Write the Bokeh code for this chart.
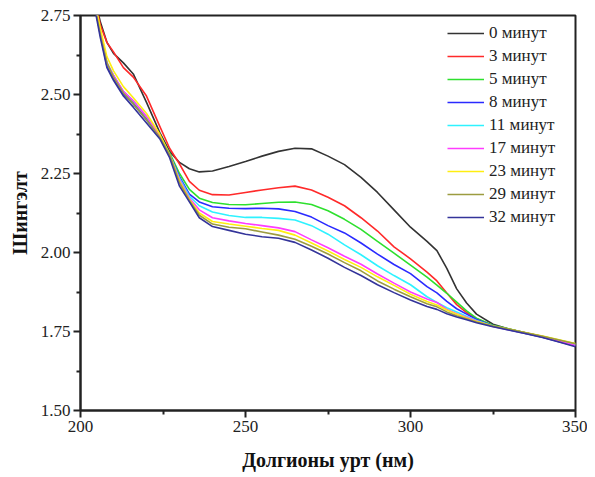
from bokeh.plotting import figure
from bokeh.models import FixedTicker, PrintfTickFormatter, Range1d
from bokeh.embed import file_html
from bokeh.resources import INLINE

wavelength = [204, 206, 208, 210, 213, 216, 220, 224, 227, 230, 233, 236, 240, 245, 250,
              255, 260, 265, 270, 275, 280, 285, 290, 295, 300, 305, 308, 311, 314, 317,
              320, 325, 330, 335, 340, 345, 350]

abs_0 = [2.82, 2.73, 2.665, 2.63, 2.60, 2.565, 2.475, 2.38, 2.32, 2.285, 2.265, 2.255, 2.258, 2.272, 2.288,
         2.305, 2.32, 2.33, 2.328, 2.305, 2.278, 2.238, 2.19, 2.135, 2.08, 2.035, 2.006, 1.95, 1.885, 1.84,
         1.805, 1.773, 1.757, 1.745, 1.733, 1.72, 1.705]
abs_3 = [2.82, 2.72, 2.665, 2.635, 2.585, 2.555, 2.495, 2.40, 2.33, 2.28, 2.225, 2.197, 2.183, 2.182, 2.19,
         2.198, 2.205, 2.21, 2.198, 2.175, 2.148, 2.11, 2.068, 2.018, 1.98, 1.938, 1.91, 1.872, 1.835, 1.81,
         1.79, 1.768, 1.757, 1.745, 1.734, 1.72, 1.708]
abs_5 = [2.80, 2.70, 2.60, 2.56, 2.505, 2.475, 2.425, 2.37, 2.315, 2.25, 2.20, 2.172, 2.158, 2.152, 2.151,
         2.155, 2.159, 2.16, 2.152, 2.132, 2.105, 2.073, 2.035, 1.998, 1.96, 1.922, 1.897, 1.871, 1.843, 1.815,
         1.792, 1.77, 1.758, 1.745, 1.734, 1.722, 1.71]
abs_8 = [2.80, 2.69, 2.59, 2.55, 2.50, 2.47, 2.42, 2.365, 2.31, 2.24, 2.185, 2.16, 2.145, 2.14, 2.139,
         2.14, 2.138, 2.13, 2.112, 2.085, 2.062, 2.03, 1.995, 1.962, 1.933, 1.892, 1.872, 1.845, 1.822, 1.805,
         1.788, 1.768, 1.756, 1.744, 1.732, 1.718, 1.704]
abs_11 = [2.80, 2.70, 2.60, 2.56, 2.51, 2.48, 2.43, 2.37, 2.31, 2.235, 2.178, 2.148, 2.128, 2.117, 2.111,
          2.111, 2.108, 2.103, 2.085, 2.058, 2.024, 1.993, 1.958, 1.927, 1.898, 1.86, 1.842, 1.825, 1.812, 1.798,
          1.785, 1.767, 1.755, 1.744, 1.733, 1.72, 1.707]
abs_17 = [2.80, 2.70, 2.60, 2.56, 2.51, 2.48, 2.43, 2.37, 2.31, 2.23, 2.172, 2.135, 2.11, 2.10, 2.092,
          2.085, 2.078, 2.066, 2.04, 2.015, 1.988, 1.963, 1.932, 1.903, 1.875, 1.853, 1.842, 1.82, 1.806, 1.795,
          1.783, 1.766, 1.755, 1.744, 1.733, 1.72, 1.706]
abs_23 = [2.81, 2.71, 2.62, 2.575, 2.525, 2.49, 2.44, 2.375, 2.31, 2.225, 2.168, 2.125, 2.098, 2.09, 2.083,
          2.076, 2.07, 2.055, 2.03, 2.005, 1.978, 1.953, 1.923, 1.896, 1.868, 1.845, 1.834, 1.818, 1.805, 1.793,
          1.782, 1.767, 1.757, 1.746, 1.736, 1.724, 1.712]
abs_29 = [2.80, 2.69, 2.60, 2.555, 2.505, 2.47, 2.42, 2.365, 2.31, 2.22, 2.165, 2.118, 2.09, 2.08, 2.075,
          2.065, 2.055, 2.042, 2.02, 1.995, 1.968, 1.942, 1.91, 1.884, 1.86, 1.838, 1.828, 1.812, 1.80, 1.79,
          1.78, 1.767, 1.757, 1.746, 1.735, 1.723, 1.711]
abs_32 = [2.79, 2.68, 2.585, 2.545, 2.495, 2.46, 2.41, 2.36, 2.30, 2.21, 2.16, 2.11, 2.082, 2.07, 2.058,
          2.05, 2.045, 2.032, 2.008, 1.982, 1.953, 1.927, 1.898, 1.873, 1.85, 1.829, 1.82, 1.806, 1.796, 1.787,
          1.778, 1.765, 1.754, 1.743, 1.731, 1.717, 1.702]

series_labels = ["0 минут", "3 минут", "5 минут", "8 минут", "11 минут",
                 "17 минут", "23 минут", "29 минут", "32 минут"]
series_values = [abs_0, abs_3, abs_5, abs_8, abs_11, abs_17, abs_23, abs_29, abs_32]
series_colors = ["#333333", "#ff2a2a", "#2ee02e", "#2a2aff", "#2ef2ff",
                 "#ff3cff", "#ffee10", "#9c9c40", "#34349a"]

x_ticks = [200, 250, 300, 350]
x_minor = [225, 275, 325]
y_ticks = [1.50, 1.75, 2.00, 2.25, 2.50, 2.75]
y_minor = [1.625, 1.875, 2.125, 2.375, 2.625]

FONT = "Liberation Serif"

p = figure(width=587, height=473, frame_width=495, frame_height=395,
           min_border_left=80, min_border_right=12, min_border_top=15, min_border_bottom=63,
           x_range=Range1d(200, 350), y_range=Range1d(1.5, 2.75),
           output_backend="svg", toolbar_location=None)

for lbl, vals, col in zip(series_labels, series_values, series_colors):
    p.line(wavelength, vals, line_color=col, line_width=1.6, legend_label=lbl)

p.xgrid.visible = False
p.ygrid.visible = False
p.outline_line_color = "#222222"
p.outline_line_width = 2
p.outline_line_alpha = 1.0

for ax in (p.xaxis[0], p.yaxis[0]):
    ax.axis_line_color = "#222222"
    ax.axis_line_width = 2
    ax.major_tick_line_color = "#222222"
    ax.major_tick_line_width = 2
    ax.minor_tick_line_color = "#222222"
    ax.minor_tick_line_width = 2
    ax.major_tick_out = 7
    ax.major_tick_in = 0
    ax.minor_tick_out = 4
    ax.minor_tick_in = 0
    ax.major_label_text_font = FONT
    ax.major_label_text_font_size = "17px"
    ax.major_label_text_color = "#222222"
    ax.axis_label_text_font = FONT
    ax.axis_label_text_font_style = "bold"
    ax.axis_label_text_color = "#111111"
    ax.axis_label_text_font_size = "20px"
    ax.major_label_standoff = 3

p.xaxis[0].ticker = FixedTicker(ticks=x_ticks, minor_ticks=x_minor)
p.yaxis[0].ticker = FixedTicker(ticks=y_ticks, minor_ticks=y_minor)
p.yaxis[0].formatter = PrintfTickFormatter(format="%.2f")
p.xaxis[0].axis_label = "Долгионы урт (нм)"
p.yaxis[0].axis_label = "Шингэлт"
p.xaxis[0].axis_label_standoff = 14
p.yaxis[0].axis_label_standoff = 7

lg = p.legend[0]
lg.location = (367, 183)
lg.border_line_color = None
lg.background_fill_alpha = 0
lg.label_text_font = FONT
lg.label_text_font_size = "17px"
lg.label_text_color = "#222222"
lg.glyph_width = 37
lg.glyph_height = 20
lg.label_height = 20
lg.label_standoff = 5
lg.spacing = 3
lg.padding = 7
lg.margin = 0

open("out.html", "w").write(file_html(p, INLINE))
